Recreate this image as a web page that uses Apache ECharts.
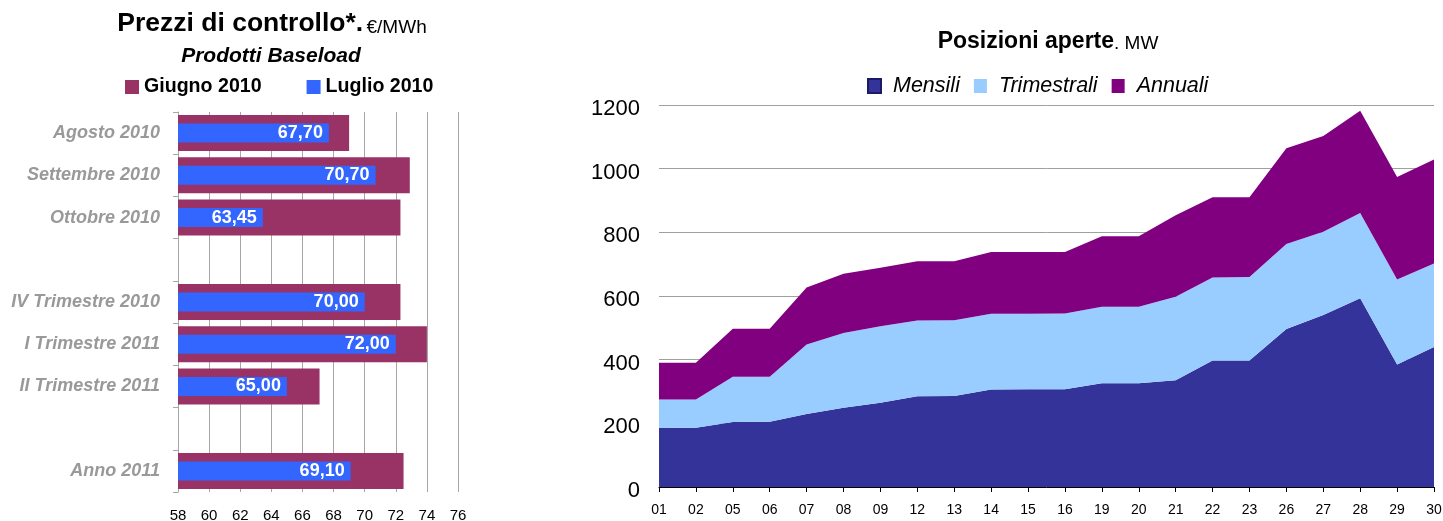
<!DOCTYPE html>
<html>
<head>
<meta charset="utf-8">
<script src="https://cdn.jsdelivr.net/npm/echarts@6/dist/echarts.min.js"></script>
<style>
  html, body { margin: 0; padding: 0; background: #ffffff; }
  #chart { width: 1443px; height: 521px; }
</style>
</head>
<body>
<div id="chart"></div>
<script>
// ---- Data: control prices (€/MWh) ----
const priceCategories = ['Agosto 2010', 'Settembre 2010', 'Ottobre 2010', '', 'IV Trimestre 2010', 'I Trimestre 2011', 'II Trimestre 2011', ' ', 'Anno 2011'];
const priceJune = [69.0, 72.9, 72.3, null, 72.3, 74.0, 67.1, null, 72.5];
const priceJuly = [67.70, 70.70, 63.45, null, 70.00, 72.00, 65.00, null, 69.10];
const priceAxisMin = 58;
const priceAxisMax = 76;
const priceAxisStep = 2;

// ---- Data: open positions (MW) by trading day ----
const days = ['01', '02', '05', '06', '07', '08', '09', '12', '13', '14', '15', '16', '19', '20', '21', '22', '23', '26', '27', '28', '29', '30'];
const monthly   = [185, 186, 204, 205, 229, 249, 265, 285, 286, 306, 307, 307, 326, 326, 335, 397, 397, 496, 540, 593, 385, 440];
const quarterly = [90, 89, 142, 141, 219, 235, 240, 238, 238, 238, 237, 238, 240, 240, 263, 261, 263, 267, 262, 268, 267, 262];
const yearly    = [115, 115, 151, 151, 179, 186, 184, 186, 185, 194, 194, 193, 222, 222, 256, 252, 250, 301, 301, 321, 322, 327];
const positionAxisMax = 1200;
const positionAxisStep = 200;

const FONT = '"Liberation Sans", Arial, Helvetica, sans-serif';
const fmtPrice = v => Number(v).toFixed(2).replace('.', ',');

const chart = echarts.init(document.getElementById('chart'), null, { renderer: 'canvas' });

const option = {
  animation: false,
  backgroundColor: '#ffffff',
  textStyle: { fontFamily: FONT },
  graphic: [
    {
      type: 'text', x: 272, y: 24,
      style: {
        text: '{b|Prezzi di controllo*.} {n|€/MWh}',
        align: 'center', verticalAlign: 'middle',
        rich: {
          b: { fontSize: 26.5, fontWeight: 'bold', fontFamily: FONT, fill: '#000', verticalAlign: 'bottom' },
          n: { fontSize: 19, fontFamily: FONT, fill: '#000', verticalAlign: 'bottom' }
        }
      }
    },
    {
      type: 'text', x: 271, y: 56,
      style: {
        text: 'Prodotti Baseload',
        align: 'center', verticalAlign: 'middle',
        font: 'italic bold 21px ' + FONT, fill: '#000'
      }
    },
    {
      type: 'text', x: 1048, y: 42,
      style: {
        text: '{b|Posizioni aperte}{n|. MW}',
        align: 'center', verticalAlign: 'middle',
        rich: {
          b: { fontSize: 23, fontWeight: 'bold', fontFamily: FONT, fill: '#000', verticalAlign: 'bottom' },
          n: { fontSize: 19, fontFamily: FONT, fill: '#000', verticalAlign: 'bottom' }
        }
      }
    }
  ],
  legend: [
    {
      data: ['Giugno 2010', 'Luglio 2010'],
      left: 125, top: 77, padding: 0,
      icon: 'rect', itemWidth: 14, itemHeight: 14, itemGap: 45,
      textStyle: { fontSize: 19.6, fontWeight: 'bold', color: '#000', fontFamily: FONT }
    },
    {
      data: ['Mensili', 'Trimestrali', 'Annuali'],
      left: 867, top: 75, padding: 0,
      icon: 'rect', itemWidth: 13, itemHeight: 14, itemGap: 14,
      textStyle: { fontSize: 21.5, fontStyle: 'italic', color: '#000', fontFamily: FONT, padding: [0, 0, 0, 7] }
    }
  ],
  grid: [
    { left: 178, top: 112, width: 280, height: 380, outerBoundsMode: 'none' },
    { left: 659, top: 105, width: 775, height: 382, outerBoundsMode: 'none' }
  ],
  xAxis: [
    {
      gridIndex: 0, type: 'value',
      min: priceAxisMin, max: priceAxisMax, interval: priceAxisStep,
      axisLine: { show: false }, axisTick: { show: false },
      splitLine: { show: true, lineStyle: { color: '#a6a6a6', width: 1 } },
      axisLabel: { fontSize: 15, color: '#000', margin: 16, fontFamily: FONT }
    },
    {
      gridIndex: 1, type: 'category', data: days, boundaryGap: false,
      axisLine: { show: true, lineStyle: { color: '#000', width: 1 } },
      axisTick: { show: true, length: 5, interval: 0, lineStyle: { color: '#000' } },
      axisLabel: { fontSize: 14, color: '#000', margin: 16, interval: 0, fontFamily: FONT }
    }
  ],
  yAxis: [
    {
      gridIndex: 0, type: 'category', inverse: true, data: priceCategories,
      axisLine: { show: true, lineStyle: { color: '#a6a6a6' } },
      axisTick: { show: true, length: 5, lineStyle: { color: '#a6a6a6' } },
      axisLabel: { fontSize: 18, fontWeight: 'bold', fontStyle: 'italic', color: '#999999', margin: 18, interval: 0, fontFamily: FONT }
    },
    {
      gridIndex: 0, type: 'category', inverse: true, data: priceCategories, show: false
    },
    {
      gridIndex: 1, type: 'value',
      min: 0, max: positionAxisMax, interval: positionAxisStep,
      axisLine: { show: false }, axisTick: { show: false },
      splitLine: { show: true, lineStyle: { color: '#a0a0a0', width: 1 } },
      axisLabel: { fontSize: 22, color: '#000', margin: 19, fontFamily: FONT, verticalAlign: 'top', lineHeight: 8, formatter: v => String(v) }
    }
  ],
  series: [
    {
      name: 'Giugno 2010', type: 'bar',
      xAxisIndex: 0, yAxisIndex: 0,
      data: priceJune, barWidth: 36,
      itemStyle: { color: '#993366' }
    },
    {
      name: 'Luglio 2010', type: 'bar',
      xAxisIndex: 0, yAxisIndex: 1,
      data: priceJuly, barWidth: 19,
      itemStyle: { color: '#3366ff' },
      label: {
        show: true, position: 'insideRight', distance: 6,
        formatter: p => fmtPrice(p.value),
        color: '#ffffff', fontSize: 18, fontWeight: 'bold', fontFamily: FONT
      }
    },
    {
      name: 'Mensili', type: 'line', stack: 'positions',
      xAxisIndex: 1, yAxisIndex: 2,
      data: monthly, symbol: 'none',
      lineStyle: { width: 0 },
      itemStyle: { color: '#333399', borderColor: '#1a1a66', borderWidth: 1 },
      areaStyle: { color: '#333399', opacity: 1 }
    },
    {
      name: 'Trimestrali', type: 'line', stack: 'positions',
      xAxisIndex: 1, yAxisIndex: 2,
      data: quarterly, symbol: 'none',
      lineStyle: { width: 0 },
      itemStyle: { color: '#99ccff' },
      areaStyle: { color: '#99ccff', opacity: 1 }
    },
    {
      name: 'Annuali', type: 'line', stack: 'positions',
      xAxisIndex: 1, yAxisIndex: 2,
      data: yearly, symbol: 'none',
      lineStyle: { width: 0 },
      itemStyle: { color: '#800080' },
      areaStyle: { color: '#800080', opacity: 1 }
    }
  ]
};

chart.setOption(option);
</script>
</body>
</html>
